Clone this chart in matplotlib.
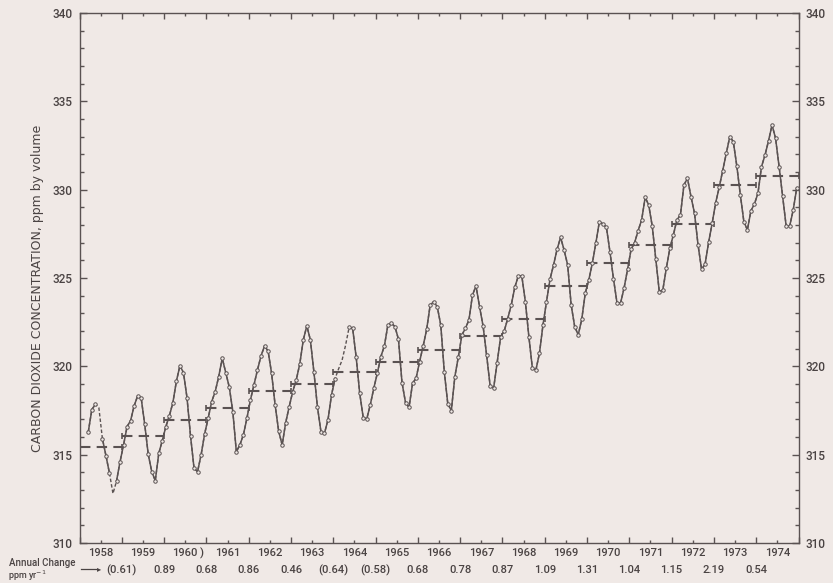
import numpy as np
import matplotlib
matplotlib.use('Agg')
import matplotlib.pyplot as plt
import matplotlib.transforms as mtransforms

# monthly CO2, ppm (None = no value plotted)
years = list(range(1958, 1975))
monthly_ppm = [
    [None, None, 316.30, 317.55, 317.85, 317.65, 315.90, 314.95, 313.95, 312.80, 313.50, 314.60],
    [315.55, 316.59, 316.93, 317.76, 318.33, 318.20, 316.72, 315.02, 314.04, 313.53, 315.08, 315.80],
    [316.59, 317.20, 317.95, 319.17, 320.04, 319.64, 318.23, 316.06, 314.23, 314.04, 314.99, 316.17],
    [317.06, 318.00, 318.57, 319.42, 320.46, 319.64, 318.82, 317.44, 315.17, 315.55, 316.12, 317.06],
    [318.10, 318.95, 319.80, 320.59, 321.15, 320.87, 319.61, 317.82, 316.34, 315.55, 316.81, 317.72],
    [318.57, 319.23, 320.14, 321.50, 322.29, 321.50, 319.70, 317.72, 316.31, 316.21, 316.97, 318.38],
    [319.30, 319.85, 320.35, 321.20, 322.21, 322.15, 320.52, 318.48, 317.10, 317.02, 317.82, 318.76],
    [319.61, 320.55, 321.15, 322.34, 322.44, 322.25, 321.53, 319.08, 317.95, 317.68, 319.04, 319.33],
    [320.27, 321.15, 322.09, 323.47, 323.66, 323.38, 322.34, 319.70, 317.87, 317.50, 319.42, 320.55],
    [321.78, 322.15, 322.63, 324.04, 324.55, 323.38, 322.29, 320.65, 318.91, 318.76, 320.21, 321.68],
    [322.00, 322.70, 323.47, 324.47, 325.11, 325.11, 323.66, 321.68, 319.89, 319.80, 320.74, 322.34],
    [323.66, 324.93, 325.74, 326.62, 327.30, 326.58, 325.74, 323.47, 322.25, 321.78, 322.66, 324.14],
    [324.89, 325.83, 326.97, 328.19, 328.06, 327.87, 326.49, 324.96, 323.60, 323.57, 324.42, 325.49],
    [326.62, 327.00, 327.68, 328.29, 329.57, 329.13, 327.94, 326.06, 324.23, 324.32, 325.55, 326.68],
    [327.44, 328.29, 328.57, 330.27, 330.64, 329.60, 328.66, 326.87, 325.49, 325.79, 327.02, 328.10],
    [329.26, 330.13, 331.08, 332.06, 333.00, 332.72, 331.34, 329.70, 328.19, 327.72, 328.81, 329.19],
    [329.80, 331.30, 331.96, 332.77, 333.66, 332.90, 331.30, 329.64, 327.94, 327.94, 328.85, 330.10],
]
# months with no measurement (drawn as broken line, no circle)
interpolated = [(1958, 6), (1958, 10), (1964, 2), (1964, 3), (1964, 4)]

annual_mean = [315.46, 316.08, 316.97, 317.66, 318.60, 318.99, 319.70, 320.27, 320.90,
               321.74, 322.66, 324.55, 325.87, 326.87, 328.06, 330.27, 330.80]
annual_change = ['(0.61)', '0.89', '0.68', '0.86', '0.46', '(0.64)', '(0.58)', '0.68',
                 '0.78', '0.87', '1.09', '1.31', '1.04', '1.15', '2.19', '0.54']

bg = '#f0e9e6'
ink = '#5a5252'
txt = '#4a4343'
font = ['Roboto', 'Liberation Sans']

# flatten monthly values
t, v, measured = [], [], []
for yr, row in zip(years, monthly_ppm):
    for m, val in enumerate(row, start=1):
        if val is None:
            continue
        t.append(yr + (m - 0.5) / 12)
        v.append(val)
        measured.append((yr, m) not in interpolated)
t = np.array(t)
v = np.array(v)
measured = np.array(measured)

fig = plt.figure(figsize=(8.33, 5.83), dpi=100, facecolor=bg)
ax = fig.add_axes([79.5 / 833, 40 / 583, 719 / 833, 530 / 583], facecolor=bg)

# broken line through the whole series, solid where measured
ax.plot(t, v, color=ink, lw=1.0, ls=(0, (2.5, 1.5)), zorder=2)
v_solid = np.where(measured, v, np.nan)
ax.plot(t, v_solid, color=ink, lw=1.1, zorder=3)
ax.plot(t[measured], v[measured], 'o', ms=2.5, mfc=bg, mec=ink, mew=0.7, zorder=4)

# annual means
for yr, mean in zip(years, annual_mean):
    ax.plot([yr, yr + 1], [mean, mean], color=ink, lw=1.5, ls=(0, (5, 3)), zorder=3)
    ax.plot([yr, yr + 1], [mean, mean], ls='none', marker='|', ms=5, mew=1.2, color=ink, zorder=3)

ax.set_xlim(1958, 1975)
ax.set_ylim(310, 340)

ax.set_yticks(np.arange(310, 341, 5))
ax.set_yticks(np.arange(310, 341, 1), minor=True)
ax.set_xticks(np.arange(1958, 1976, 1))
ax.set_xticks(np.arange(1958.5, 1975, 1), minor=True)
ax.set_xticklabels([])
ax.tick_params(axis='y', which='both', direction='in', left=True, right=True,
               labelleft=True, labelright=True, colors=ink, labelcolor=txt,
               labelsize=8.5, pad=5)
ax.tick_params(axis='y', which='major', length=5, width=1)
ax.tick_params(axis='y', which='minor', length=3, width=1)
ax.tick_params(axis='x', which='both', direction='in', top=True, bottom=True, colors=ink)
ax.tick_params(axis='x', which='major', length=4, width=1)
ax.tick_params(axis='x', which='minor', length=2.5, width=1)
for lab in ax.get_yticklabels():
    lab.set_fontfamily(font)
    lab.set_fontweight('medium')
for sp in ax.spines.values():
    sp.set_color(ink)
    sp.set_linewidth(1.0)

trans = mtransforms.blended_transform_factory(ax.transData, fig.transFigure)
for yr in years:
    ax.text(yr + 0.5, 1 - 553 / 583, str(yr), transform=trans, ha='center', va='center',
            fontsize=8, color=txt, family=font, weight='medium')
ax.text(1960.88, 1 - 553 / 583, ')', transform=trans, ha='center', va='center',
        fontsize=8, color=txt, family=font, weight='medium')
for yr, ch in zip(years[1:], annual_change):
    ax.text(yr, 1 - 570 / 583, ch, transform=trans, ha='center', va='center',
            fontsize=8, color=txt, family=font, weight='medium')

fig.text(42 / 833, 1 - 563 / 583, 'Annual Change', ha='center', va='center',
         fontsize=7, color=txt, family=font, weight='medium')
fig.text(27 / 833, 1 - 576 / 583, 'ppm yr$^{-1}$', ha='center', va='center',
         fontsize=6.5, color=txt, family=font, weight='medium')
fig.add_artist(plt.Line2D([81 / 833, 96 / 833], [1 - 569 / 583, 1 - 569 / 583],
                          color=txt, lw=0.9))
fig.text(99 / 833, 1 - 569 / 583, '▸', ha='center', va='center', fontsize=6, color=txt)

fig.text(38 / 833, 1 - 288 / 583, 'CARBON DIOXIDE CONCENTRATION, ppm by volume',
         rotation=90, ha='center', va='center', fontsize=9, color=txt,
         family=['DejaVu Sans'])

fig.savefig('out.png', dpi=100, facecolor=bg)
